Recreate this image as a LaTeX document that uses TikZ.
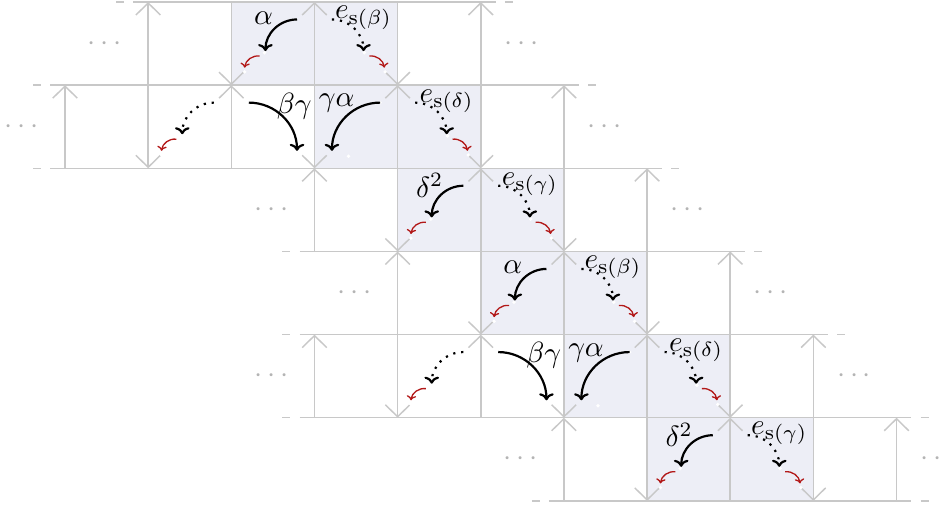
\documentclass[tikz,border=0pt]{standalone}
\usetikzlibrary{arrows.meta}
\definecolor{cellfill}{RGB}{237,238,246}
\definecolor{gridgray}{RGB}{200,200,200}
\definecolor{dotgray}{RGB}{180,180,180}
\definecolor{tipred}{RGB}{178,24,24}
\tikzset{
  gridline/.style={draw=gridgray, line width=0.5pt},
  gridarrow/.style={gridline, -{Straight Barb[length=4.1pt,width=8.4pt]}},
  solidarr/.style={draw=black, line width=0.75pt, -{To[length=2.4pt,width=5pt]}},
  dotarr/.style={solidarr, dotted},
  redarr/.style={draw=tipred, line width=0.45pt, -{To[length=1.6pt,width=3.2pt]}},
  lbl/.style={inner sep=0pt},
  ellip/.style={text=dotgray, inner sep=0pt},
  wdot/.style={fill=white, draw=none, circle, inner sep=0pt, minimum size=1.3pt},
}
% left-going arrow in cell (#1,#2), ends at diagonal fraction #3
\newcommand\goLeft[5]{%
  \coordinate (#5s) at ({#1+0.79},{-#2-0.21});
  \coordinate (#5e) at ({#1+1-#3},{-#2-#3});
  \draw[#4] (#5s) to[bend right=45] (#5e);}
\newcommand\goRight[5]{%
  \coordinate (#5s) at ({#1+0.21},{-#2-0.21});
  \coordinate (#5e) at ({#1+#3},{-#2-#3});
  \draw[#4] (#5s) to[bend left=45] (#5e);}
\newcommand\redLeft[3]{%
  \node[wdot] (#3wa) at ({#1+0.4},{-#2-0.61}) {};
  \node[wdot] (#3wb) at ({#1+0.16},{-#2-0.84}) {};
  \coordinate (#3rs) at ({#1+0.34},{-#2-0.65});
  \coordinate (#3re) at ({#1+0.16},{-#2-0.79});
  \draw[redarr] (#3rs) to[bend right=45] (#3re);}
\newcommand\redRight[3]{%
  \node[wdot] (#3wa) at ({#1+0.6},{-#2-0.61}) {};
  \node[wdot] (#3wb) at ({#1+0.85},{-#2-0.84}) {};
  \coordinate (#3rs) at ({#1+0.66},{-#2-0.65});
  \coordinate (#3re) at ({#1+0.84},{-#2-0.79});
  \draw[redarr] (#3rs) to[bend left=45] (#3re);}
\begin{document}
\begin{tikzpicture}
\useasboundingbox (-0.782,0.024) rectangle (10.595,-6.085);
% shaded cells
\foreach \c/\r in {2/0,3/0,3/1,4/1,4/2,5/2,5/3,6/3,6/4,7/4,7/5,8/5}
  \fill[cellfill] (\c,-\r) rectangle ++(1,-1);
% strips
\foreach \r/\a/\b in {0/1/5,1/0/6,2/3/7,3/4/8,4/3/9,5/6/10}{
  \pgfmathtruncatemacro\rr{\r+1}
  \draw[gridline] ({\a-0.18},-\r) -- ({\b+0.18},-\r);
  \draw[gridline] ({\a-0.18},-\rr) -- ({\b+0.18},-\rr);
  \draw[gridline] ({\a-0.385},-\r) -- ({\a-0.29},-\r);
  \draw[gridline] ({\a-0.385},-\rr) -- ({\a-0.29},-\rr);
  \draw[gridline] ({\b+0.29},-\r) -- ({\b+0.385},-\r);
  \draw[gridline] ({\b+0.29},-\rr) -- ({\b+0.385},-\rr);
  \foreach \c in {\a,...,\b}{
    \pgfmathtruncatemacro\p{mod(\c-\a,2)}
    \ifnum\p=0
      \draw[gridarrow] (\c,-\rr) -- (\c,-\r);
    \else
      \draw[gridarrow] (\c,-\r) -- (\c,-\rr);
    \fi
  }
  \node[ellip] (dl\r) at ({\a-0.52},{-\r-0.5}) {$\cdots$};
  \node[ellip] (dr\r) at ({\b+0.49},{-\r-0.5}) {$\cdots$};
}
% arrows and labels, two identical blocks
\foreach \k in {0,3}{
  \pgfmathtruncatemacro\ra{\k}
  \pgfmathtruncatemacro\rb{\k+1}
  \pgfmathtruncatemacro\rc{\k+2}
  \pgfmathtruncatemacro\ca{\k+1}
  \pgfmathtruncatemacro\cb{\k+2}
  \pgfmathtruncatemacro\cc{\k+3}
  \pgfmathtruncatemacro\cd{\k+4}
  \pgfmathtruncatemacro\ce{\k+5}
  % row a: alpha, e_s(beta)
  \redLeft{\cb}{\ra}{ra\k}
  \goLeft{\cb}{\ra}{0.59}{solidarr}{aa\k}
  \node[lbl] (alpha\k) at ({\cb+0.386},{-\ra-0.193}) {$\alpha$};
  \redRight{\cc}{\ra}{rb\k}
  \goRight{\cc}{\ra}{0.59}{dotarr}{ab\k}
  \node[lbl] (esb\k) at ({\cc+0.59},{-\ra-0.19}) {$e_{\mathrm{s}(\beta)}$};
  % row b: dotted, beta gamma, gamma alpha, e_s(delta)
  \redLeft{\ca}{\rb}{rc\k}
  \goLeft{\ca}{\rb}{0.59}{dotarr}{ac\k}
  \goRight{\cb}{\rb}{0.79}{solidarr}{ad\k}
  \node[lbl] (bg\k) at ({\cb+0.758},{-\rb-0.25}) {$\beta\gamma$};
  \node[wdot] (gw\k) at ({\cc+0.41},{-\rb-0.855}) {};
  \node[wdot] (gv\k) at ({\cc+0.79},{-\rb-0.21}) {};
  \goLeft{\cc}{\rb}{0.79}{solidarr}{ae\k}
  \node[lbl] (ga\k) at ({\cc+0.266},{-\rb-0.22}) {$\gamma\alpha$};
  \redRight{\cd}{\rb}{rd\k}
  \goRight{\cd}{\rb}{0.59}{dotarr}{af\k}
  \node[lbl] (esd\k) at ({\cd+0.59},{-\rb-0.19}) {$e_{\mathrm{s}(\delta)}$};
  % row c: delta^2, e_s(gamma)
  \redLeft{\cd}{\rc}{re\k}
  \goLeft{\cd}{\rc}{0.59}{solidarr}{ag\k}
  \node[lbl] (dd\k) at ({\cd+0.386},{-\rc-0.205}) {$\delta^2$};
  \redRight{\ce}{\rc}{rf\k}
  \goRight{\ce}{\rc}{0.59}{dotarr}{ah\k}
  \node[lbl] (esg\k) at ({\ce+0.59},{-\rc-0.19}) {$e_{\mathrm{s}(\gamma)}$};
}
\end{tikzpicture}
\end{document}
